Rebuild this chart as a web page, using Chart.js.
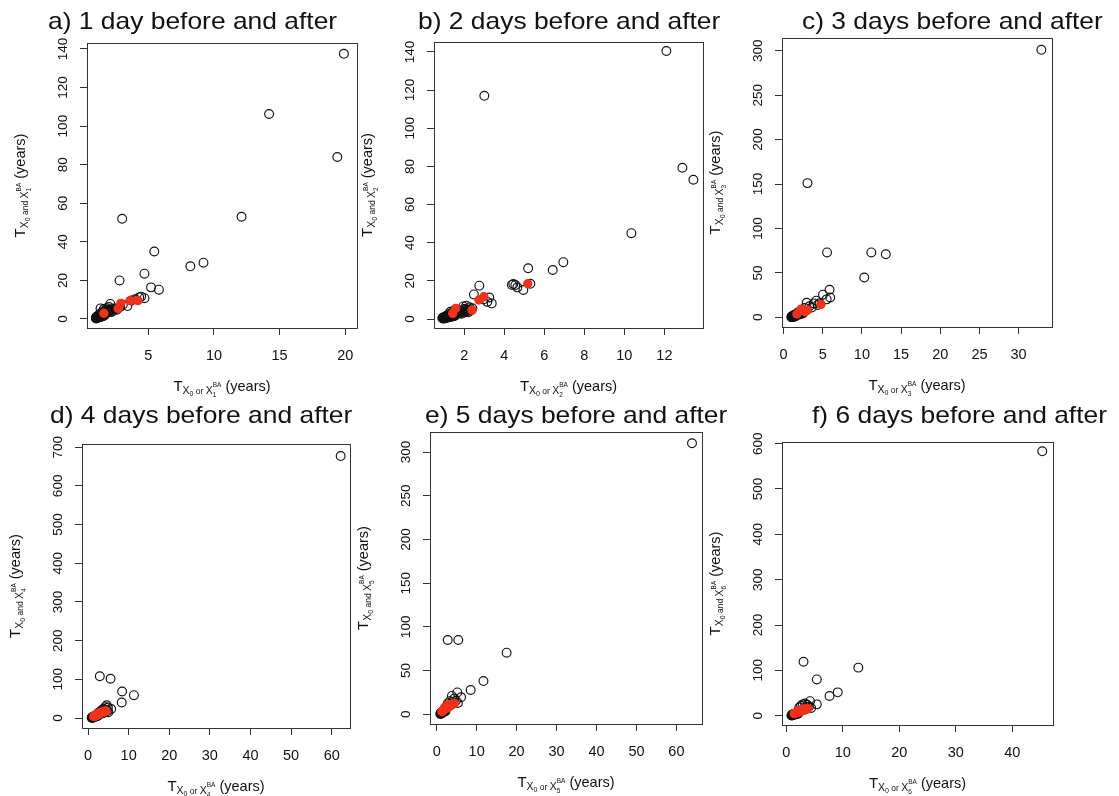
<!DOCTYPE html>
<html lang="en">
<head>
<meta charset="UTF-8">
<title>Return periods, 1 to 6 days before and after</title>
<script src="https://cdn.jsdelivr.net/npm/chart.js"></script>
<style>
  body { margin: 0; background: #fff; }
  #wrap { position: relative; width: 1119px; height: 796px; }
  #wrap canvas { position: absolute; left: 0; top: 0; }
</style>
</head>
<body>
<div id="wrap">
  <canvas id="pa" width="1119" height="796"></canvas>
  <canvas id="pb" width="1119" height="796"></canvas>
  <canvas id="pc" width="1119" height="796"></canvas>
  <canvas id="pd" width="1119" height="796"></canvas>
  <canvas id="pe" width="1119" height="796"></canvas>
  <canvas id="pf" width="1119" height="796"></canvas>
</div>
<script>
// ---- data: [T_X0 or X^BA, T_X0 and X^BA] in years ----
const openA = [
  [19.9, 137.5], [14.2, 106.3], [19.4, 84], [3.0, 52], [12.1, 53], [5.45, 35], [9.2, 29.2], [8.2, 27.3],
  [4.7, 23.5], [2.8, 20], [5.2, 16.4], [5.8, 15.2], [4.45, 11.6], [4.7, 10.8], [4.3, 11.2], [3.4, 6.7],
  [2.1, 7.8], [1.35, 5.5], [3.05, 7.4], [2.85, 6.2], [2.55, 5.3], [3.7, 9.6], [4.0, 10.2],
  [1.0, 0.6], [1.02, 0.9], [1.05, 1.1], [1.08, 0.8], [1.1, 1.3], [1.12, 1.0], [1.15, 1.6], [1.18, 1.2],
  [1.2, 1.9], [1.22, 1.4], [1.25, 2.1], [1.28, 1.7], [1.3, 2.4], [1.33, 1.5], [1.35, 2.8], [1.4, 2.0],
  [1.42, 3.1], [1.45, 2.5], [1.5, 3.4], [1.52, 2.2], [1.55, 3.8], [1.6, 2.9], [1.65, 4.2], [1.7, 3.3],
  [1.75, 2.6], [1.8, 3.9], [1.85, 4.6], [1.9, 3.5], [1.95, 4.1], [2.0, 4.9], [2.05, 3.7], [2.1, 4.4],
  [2.2, 5.0], [2.3, 4.3], [2.4, 5.4], [2.2, 3.6], [1.6, 5.2], [1.8, 5.6], [2.0, 6.2], [2.6, 4.8],
  [1.01, 0.3], [1.04, 0.5], [1.06, 0.4], [1.09, 0.7], [1.13, 0.6], [1.16, 0.9], [1.19, 0.8], [1.23, 1.1],
  [1.26, 0.9], [1.3, 1.2], [1.36, 1.1], [1.4, 1.4], [1.46, 1.3], [1.5, 1.7], [1.58, 1.6], [1.66, 2.0]
];
const redA = [[1.6, 3.0], [2.7, 5.5], [2.9, 8.1], [3.6, 9.5], [4.2, 9.5]];

const openB = [
  [12.1, 140.5], [3.0, 117], [12.9, 79.3], [13.45, 73], [10.35, 45], [6.95, 29.8], [6.42, 25.7], [5.19, 26.6],
  [4.45, 18.4], [4.38, 17.9], [4.55, 17.8], [4.65, 16.6], [4.95, 15.2], [5.3, 18.5], [2.75, 17.5], [2.48, 12.9],
  [3.25, 11.3], [3.37, 8.2], [3.15, 9.0], [2.95, 10.3], [1.95, 6.6], [2.1, 7.0], [2.25, 6.2], [2.0, 5.4], [2.3, 5.0],
  [0.9, 0.5], [0.95, 0.8], [1.0, 1.0], [1.02, 0.6], [1.05, 1.3], [1.08, 0.9], [1.1, 1.6], [1.12, 1.1],
  [1.15, 1.9], [1.18, 1.3], [1.2, 2.2], [1.25, 1.5], [1.28, 2.6], [1.3, 1.8], [1.35, 3.0], [1.4, 2.1],
  [1.45, 3.4], [1.5, 2.4], [1.55, 3.9], [1.6, 2.7], [1.65, 4.2], [1.7, 3.1], [1.75, 4.5], [1.8, 3.4],
  [1.85, 2.8], [1.9, 4.0], [1.95, 3.3], [2.0, 4.6], [2.05, 3.8], [2.1, 5.0], [2.15, 4.2], [2.2, 3.5],
  [2.3, 4.4], [2.4, 5.6], [1.5, 4.6], [1.3, 3.8],
  [0.92, 0.3], [0.97, 0.4], [1.01, 0.3], [1.04, 0.6], [1.07, 0.5], [1.11, 0.8], [1.14, 0.7], [1.17, 1.0],
  [1.21, 0.9], [1.24, 1.2], [1.29, 1.1], [1.33, 1.4], [1.38, 1.3], [1.43, 1.6], [1.48, 1.5], [1.55, 1.9]
];
const redB = [[1.42, 3.0], [1.57, 5.6], [2.39, 4.7], [2.73, 10.0], [2.98, 11.7], [5.17, 18.5]];

const openC = [
  [32.9, 301], [3.05, 151], [5.55, 73], [11.2, 73], [13.05, 71], [10.3, 44.8], [5.87, 31], [5.95, 22.3],
  [5.03, 25.5], [4.17, 18.7], [2.95, 16.4], [5.5, 20.2], [3.85, 15.7], [4.35, 13.8], [4.6, 15.8], [3.3, 12.5],
  [2.7, 10.5], [3.6, 11],
  [1.0, 0.5], [1.05, 1.0], [1.1, 0.8], [1.15, 1.5], [1.2, 1.2], [1.25, 2.0], [1.3, 1.6], [1.35, 2.5],
  [1.4, 1.9], [1.5, 2.8], [1.55, 2.2], [1.6, 3.4], [1.7, 2.6], [1.8, 3.9], [1.9, 3.0], [2.0, 4.4],
  [2.1, 3.5], [2.2, 5.0], [2.3, 4.0], [2.4, 5.6], [2.5, 4.6], [2.2, 6.5], [2.6, 7.2], [1.8, 5.5],
  [1.02, 0.2], [1.08, 0.4], [1.12, 0.3], [1.18, 0.7], [1.24, 0.6], [1.32, 0.9], [1.42, 1.0], [1.52, 1.3]
];
const redC = [[1.71, 3.7], [2.22, 9.0], [2.77, 6.3], [3.07, 8.2], [4.77, 14.6]];

const openD = [
  [62.2, 677], [2.9, 108], [5.55, 101.5], [8.4, 68.5], [11.3, 59], [8.3, 40], [4.6, 33], [5.7, 23.2],
  [4.2, 28], [3.8, 24], [3.4, 20], [4.9, 27], [3.0, 17], [4.4, 21], [2.6, 14], [5.0, 15], [3.6, 12], [4.8, 18],
  [0.9, 0.5], [1.0, 1.0], [1.05, 1.8], [1.1, 0.7], [1.15, 2.5], [1.2, 1.4], [1.3, 3.0], [1.35, 2.0],
  [1.4, 3.8], [1.5, 2.6], [1.6, 4.3], [1.7, 3.2], [1.8, 5.0], [2.0, 4.0], [2.2, 6.0], [2.4, 5.0]
];
const redD = [
  [1.4, 3.5], [1.6, 4.5], [1.75, 5.2], [1.9, 6.3], [2.0, 7.0], [2.15, 7.6], [2.3, 8.5], [2.45, 9.2],
  [2.6, 10.0], [2.75, 11.0], [2.9, 11.6], [3.05, 12.5], [3.2, 13.3], [3.35, 14.0], [3.5, 14.8], [3.7, 15.6],
  [3.85, 16.4], [4.0, 17.0], [4.2, 17.8], [4.4, 18.5], [2.2, 10], [2.6, 12.5], [3.0, 14.5], [1.8, 8]
];

const openE = [
  [63.9, 310], [2.75, 85], [5.4, 85], [17.5, 70.5], [11.7, 38], [8.5, 27.8], [5.15, 25], [6.1, 19.5],
  [3.8, 21], [4.4, 18], [3.3, 15], [4.8, 15.5], [5.3, 13], [2.8, 12.5], [3.9, 14],
  [0.9, 0.5], [1.0, 1.2], [1.05, 0.7], [1.1, 1.8], [1.15, 1.0], [1.2, 2.3], [1.3, 1.5], [1.35, 2.8],
  [1.45, 2.0], [1.5, 3.3], [1.6, 2.5], [1.7, 3.8], [1.85, 3.0], [2.0, 4.2], [2.2, 3.5]
];
const redE = [
  [1.3, 3], [1.5, 4], [1.7, 4.5], [1.9, 5.5], [2.1, 6], [2.3, 6.8], [2.5, 7.2], [2.7, 8], [2.9, 8.5],
  [3.1, 9], [3.3, 9.6], [3.5, 10.2], [3.8, 11], [4.1, 11.8], [4.4, 12.5], [2.0, 8], [2.5, 9.5], [3.0, 11]
];

const openF = [
  [45.3, 583], [3.05, 119], [12.75, 106], [5.4, 80], [9.1, 51.5], [7.65, 43.5], [4.2, 32], [5.4, 25],
  [2.6, 22], [3.3, 27], [2.9, 25], [3.7, 24], [4.0, 20], [3.5, 19], [2.3, 18], [4.4, 17],
  [0.9, 0.5], [1.0, 1.5], [1.05, 0.8], [1.1, 2.5], [1.15, 1.2], [1.2, 3.2], [1.3, 2.0], [1.4, 3.8],
  [1.5, 2.6], [1.6, 4.6], [1.75, 3.3], [1.9, 5.4], [2.1, 4.2]
];
const redF = [
  [1.4, 4.5], [1.6, 5.5], [1.8, 6.5], [2.0, 7.5], [2.2, 8.3], [2.4, 9.2], [2.6, 10], [2.8, 11], [3.0, 11.8],
  [3.2, 12.6], [3.4, 13.5], [3.6, 14.5], [3.8, 15.5], [2.0, 10], [2.5, 12.5], [3.0, 14.5]
];

// ---- tick labels ----
const xTicksA = [5, 10, 15, 20];
const yTicksA = [0, 20, 40, 60, 80, 100, 120, 140];
const xTicksB = [2, 4, 6, 8, 10, 12];
const yTicksB = [0, 20, 40, 60, 80, 100, 120, 140];
const xTicksC = [0, 5, 10, 15, 20, 25, 30];
const yTicksC = [0, 50, 100, 150, 200, 250, 300];
const xTicksD = [0, 10, 20, 30, 40, 50, 60];
const yTicksD = [0, 100, 200, 300, 400, 500, 600, 700];
const xTicksE = [0, 10, 20, 30, 40, 50, 60];
const yTicksE = [0, 50, 100, 150, 200, 250, 300];
const xTicksF = [0, 10, 20, 30, 40];
const yTicksF = [0, 100, 200, 300, 400, 500, 600];

const titles = [
  'a) 1 day before and after', 'b) 2 days before and after', 'c) 3 days before and after',
  'd) 4 days before and after', 'e) 5 days before and after', 'f) 6 days before and after'
];

// ---- layout: plot box [left, top, right, bottom], axis limits, title anchor ----
const W = 1119, H = 796;
const AXW = 40, AXH = 40;
const FONT = '"Liberation Sans", Arial, Helvetica, sans-serif';
const INK = '#111';
const LINE = '#333';
const RED = '#f2311a';

const panels = [
  { id: 'pa', n: '1', open: openA, red: redA, xt: xTicksA, yt: yTicksA,
    box: [87, 43, 357, 328], xLim: [0.32, 20.9], yLim: [-4.67, 143.1], titleAt: [48, 29] },
  { id: 'pb', n: '2', open: openB, red: redB, xt: xTicksB, yt: yTicksB,
    box: [434, 42, 703, 328], xLim: [0.485, 13.93], yLim: [-4.7, 145.2], titleAt: [418, 29] },
  { id: 'pc', n: '3', open: openC, red: redC, xt: xTicksC, yt: yTicksC,
    box: [782, 38, 1052, 327], xLim: [-0.2, 34.26], yLim: [-10.9, 314.3], titleAt: [802, 28.5] },
  { id: 'pd', n: '4', open: openD, red: redD, xt: xTicksD, yt: yTicksD,
    box: [82, 444, 350, 728], xLim: [-1.48, 64.5], yLim: [-25.8, 708.2], titleAt: [50, 423] },
  { id: 'pe', n: '5', open: openE, red: redE, xt: xTicksE, yt: yTicksE,
    box: [430, 432, 702, 724], xLim: [-1.68, 66.4], yLim: [-11.1, 322.9], titleAt: [425, 423] },
  { id: 'pf', n: '6', open: openF, red: redF, xt: xTicksF, yt: yTicksF,
    box: [782, 442, 1053, 725], xLim: [-0.76, 47.2], yLim: [-20.5, 603.6], titleAt: [812, 423] }
];

// T with a subscript "X0 or/and Xn^BA", then "(years)"
function axisParts(word, n) {
  return [
    { t: 'T', s: 15, dy: 0 },
    { t: 'X', s: 10.5, dy: 3 },
    { t: '0', s: 7, dy: 5 },
    { t: ' ' + word + ' ', s: 8.5, dy: 3 },
    { t: 'X', s: 10.5, dy: 3 },
    { up: 'BA', dn: n, s: 6.5, upDy: -4, dnDy: 6 },
    { t: ' (years)', s: 14.5, dy: 0 }
  ];
}

function partWidth(ctx, p) {
  ctx.font = p.s + 'px ' + FONT;
  if (p.up !== undefined) return Math.max(ctx.measureText(p.up).width, ctx.measureText(p.dn).width);
  return ctx.measureText(p.t).width;
}

function richText(ctx, parts, cx, cy, rot) {
  ctx.save();
  ctx.translate(cx, cy);
  ctx.rotate(rot);
  ctx.textAlign = 'left';
  ctx.textBaseline = 'alphabetic';
  const total = parts.reduce((w, p) => w + partWidth(ctx, p), 0);
  let x = -total / 2;
  parts.forEach(p => {
    const w = partWidth(ctx, p);
    ctx.font = p.s + 'px ' + FONT;
    if (p.up !== undefined) {
      ctx.fillText(p.up, x, p.upDy);
      ctx.fillText(p.dn, x, p.dnDy);
    } else {
      ctx.fillText(p.t, x, p.dy);
    }
    x += w;
  });
  ctx.restore();
}

// frame, rotated y labels, axis titles and panel title
const decor = {
  id: 'decor',
  afterDraw(chart, args, o) {
    const ctx = chart.ctx, a = chart.chartArea, ys = chart.scales.y;
    ctx.save();
    ctx.strokeStyle = LINE;
    ctx.lineWidth = 1;
    ctx.strokeRect(Math.round(a.left) + 0.5, Math.round(a.top) + 0.5,
      Math.round(a.right - a.left), Math.round(a.bottom - a.top));

    ctx.fillStyle = INK;
    ctx.font = '13.5px ' + FONT;
    ctx.textAlign = 'center';
    ctx.textBaseline = 'alphabetic';
    ys.ticks.forEach(t => {
      ctx.save();
      ctx.translate(a.left - 20, ys.getPixelForValue(t.value));
      ctx.rotate(-Math.PI / 2);
      ctx.fillText(String(t.value), 0, 0);
      ctx.restore();
    });

    richText(ctx, axisParts('or', o.n), (a.left + a.right) / 2, a.bottom + 63, 0);
    richText(ctx, axisParts('and', o.n), a.left - 62, (a.top + a.bottom) / 2, -Math.PI / 2);

    ctx.translate(o.titleAt[0], o.titleAt[1]);
    ctx.scale(1.1, 1);
    ctx.font = '24px ' + FONT;
    ctx.textAlign = 'left';
    ctx.fillText(o.title, 0, 0);
    ctx.restore();
  }
};

const toXY = arr => arr.map(([x, y]) => ({ x, y }));

panels.forEach((p, i) => {
  const [l, t, r, b] = p.box;
  new Chart(document.getElementById(p.id), {
    type: 'scatter',
    data: {
      datasets: [
        { data: toXY(p.red), pointRadius: 4.7, pointBackgroundColor: RED, pointBorderColor: RED,
          pointBorderWidth: 0, order: 0 },
        { data: toXY(p.open), pointRadius: 4.4, pointBackgroundColor: 'rgba(0,0,0,0)',
          pointBorderColor: '#111', pointBorderWidth: 1.15, order: 1 }
      ]
    },
    options: {
      responsive: false,
      animation: false,
      events: [],
      layout: { padding: { left: l - AXW, top: t, right: W - r, bottom: H - b - AXH } },
      plugins: {
        legend: { display: false },
        tooltip: { enabled: false },
        decor: { n: p.n, title: titles[i], titleAt: p.titleAt }
      },
      scales: {
        x: {
          type: 'linear', min: p.xLim[0], max: p.xLim[1],
          afterBuildTicks: s => { s.ticks = p.xt.map(v => ({ value: v })); },
          afterFit: s => { s.height = AXH; },
          border: { display: false },
          grid: { drawOnChartArea: false, drawTicks: true, tickLength: 7, color: LINE },
          ticks: { autoSkip: false, maxRotation: 0, padding: 12, color: INK,
                   font: { family: FONT, size: 14.5 } }
        },
        y: {
          type: 'linear', min: p.yLim[0], max: p.yLim[1],
          afterBuildTicks: s => { s.ticks = p.yt.map(v => ({ value: v })); },
          afterFit: s => { s.width = AXW; },
          border: { display: false },
          grid: { drawOnChartArea: false, drawTicks: true, tickLength: 7, color: LINE },
          ticks: { display: false }
        }
      }
    },
    plugins: [decor]
  });
});
</script>
</body>
</html>
